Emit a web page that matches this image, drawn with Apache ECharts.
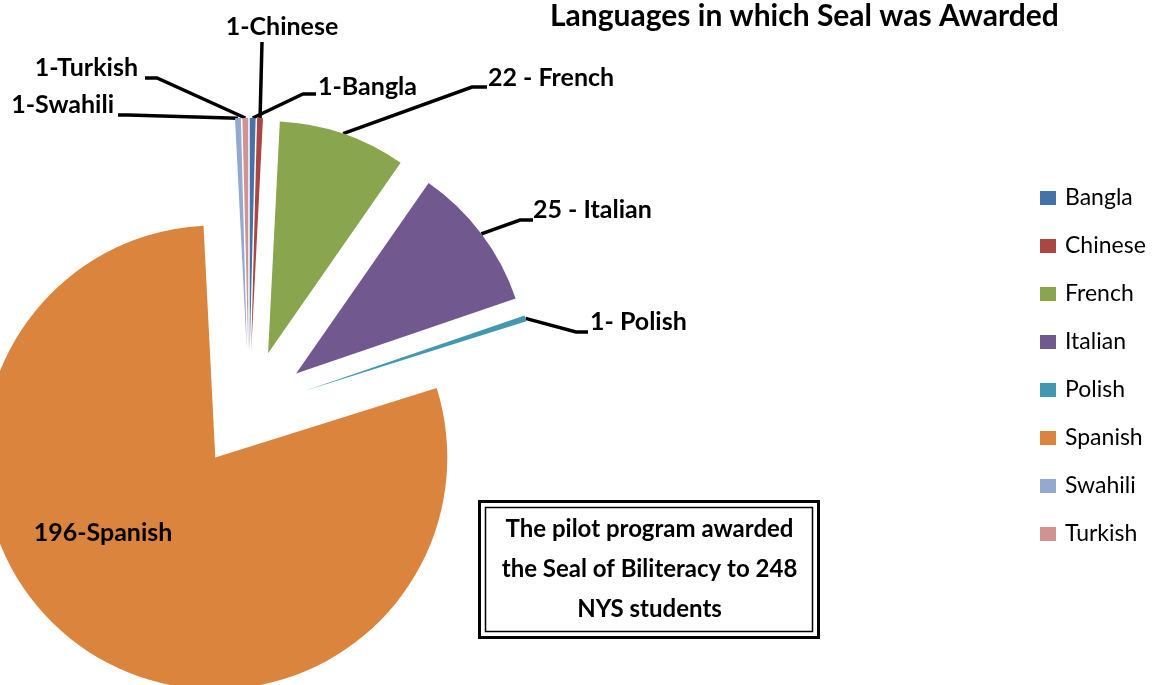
<!DOCTYPE html>
<html>
<head>
<meta charset="utf-8">
<script src="https://cdn.jsdelivr.net/npm/echarts@6/dist/echarts.min.js"></script>
<style>
  html, body { margin: 0; padding: 0; background: #fff; }
  #chart { width: 1152px; height: 685px; }
</style>
</head>
<body>
<div id="chart"></div>
<script>
// data
const languages = ['Bangla', 'Chinese', 'French', 'Italian', 'Polish', 'Spanish', 'Swahili', 'Turkish'];
const awarded = [1, 1, 22, 25, 1, 196, 1, 1];
const sliceLabels = ['1-Bangla', '1-Chinese', '22 - French', '25 - Italian', '1- Polish', '196-Spanish', '1-Swahili', '1-Turkish'];
const noteLines = ['The pilot program awarded', 'the Seal of Biliteracy to 248', 'NYS students'];

const palette = ['#4572A7', '#AA4643', '#89A54E', '#71588F', '#4198AF', '#DB843D', '#93A9CF', '#D19392'];

// pie geometry, every slice is pulled out of the centre (exploded pie)
const pieCenter = [249, 409];
const pieRadius = 232;
const explode = 59;

// where Excel put each label (text anchor, leader elbow, leader end)
const labelSpots = {
  Bangla: { text: [318, 87], align: 'left', elbow: [303, 94], end: [316, 94] },
  Chinese: { text: [282, 27], align: 'center', elbow: [262, 42], end: [262, 42] },
  French: { text: [488, 78], align: 'left', elbow: [472, 87], end: [487, 87] },
  Italian: { text: [533, 210], align: 'left', elbow: [520, 220], end: [533, 220] },
  Polish: { text: [590, 322], align: 'left', elbow: [576, 332], end: [588, 332] },
  Spanish: { text: [103, 533], align: 'center' },
  Swahili: { text: [114, 105], align: 'right', elbow: [128, 115], end: [118, 115] },
  Turkish: { text: [138, 68], align: 'right', elbow: [157, 78], end: [145, 78] }
};

const chart = echarts.init(document.getElementById('chart'));

const total = awarded.reduce((a, b) => a + b, 0);

// one pie per slice: same data, only its own slice painted, centre pushed out along the slice's mid angle
let before = 0;
const series = languages.map((lang, k) => {
  const mid = (before + awarded[k] / 2) / total * 2 * Math.PI;
  before += awarded[k];
  return {
    type: 'pie',
    name: lang,
    center: [pieCenter[0] + explode * Math.sin(mid), pieCenter[1] - explode * Math.cos(mid)],
    radius: pieRadius,
    startAngle: 90,
    clockwise: true,
    avoidLabelOverlap: false,
    emphasis: { disabled: true },
    label: {
      show: false,
      fontFamily: 'Lato',
      fontWeight: 'bold',
      fontSize: 25,
      color: '#000'
    },
    labelLine: { show: false, lineStyle: { color: '#000', width: 3.5 } },
    labelLayout: function (p) {
      if (p.dataIndex !== k) return {};
      const spot = labelSpots[lang];
      const out = { x: spot.text[0], y: spot.text[1], align: spot.align, verticalAlign: 'middle' };
      if (spot.elbow && p.labelLinePoints) {
        out.labelLinePoints = [p.labelLinePoints[0], spot.elbow, spot.end];
      }
      return out;
    },
    data: languages.map((name, i) => {
      const own = i === k;
      return {
        name: name,
        value: awarded[i],
        itemStyle: { color: own ? palette[i] : 'rgba(0,0,0,0)' },
        label: {
          show: own,
          position: name === 'Spanish' ? 'inside' : 'outside',
          formatter: sliceLabels[i]
        },
        labelLine: { show: own && name !== 'Spanish', length: 20, length2: 10 }
      };
    })
  };
});

chart.setOption({
  animation: false,
  title: {
    text: 'Languages in which Seal was Awarded',
    left: 545,
    top: -4,
    textStyle: { fontFamily: 'Lato', fontWeight: 'bold', fontSize: 30, color: '#000' }
  },
  legend: {
    orient: 'vertical',
    left: 1040,
    top: 186,
    padding: 0,
    icon: 'rect',
    itemWidth: 16,
    itemHeight: 14,
    itemGap: 24,
    selectedMode: false,
    data: languages.map((name, i) => ({ name: name, itemStyle: { color: palette[i] } })),
    textStyle: { fontFamily: 'Lato', fontSize: 23, color: '#000', lineHeight: 24, padding: [0, 0, 0, 4] }
  },
  series: series,
  graphic: [
    {
      type: 'group',
      left: 478,
      top: 500,
      children: [
        { type: 'rect', shape: { x: 0, y: 0, width: 339, height: 136 }, style: { fill: '#fff', stroke: '#000', lineWidth: 3 } },
        { type: 'rect', shape: { x: 6, y: 6, width: 327, height: 124 }, style: { fill: null, stroke: '#000', lineWidth: 1.5 } },
        {
          type: 'text',
          x: 170,
          y: 68,
          style: {
            text: noteLines.join('\n'),
            align: 'center',
            verticalAlign: 'middle',
            fontFamily: 'Lato',
            fontWeight: 'bold',
            fontSize: 24,
            lineHeight: 40,
            fill: '#000'
          }
        }
      ]
    }
  ]
});
</script>
</body>
</html>
